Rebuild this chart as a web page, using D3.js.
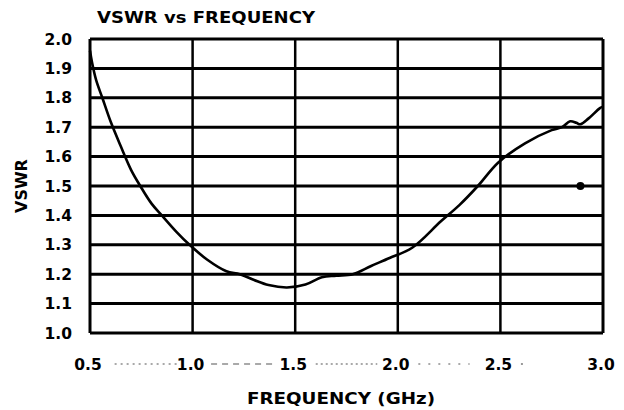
<!DOCTYPE html>
<html>
<head>
<meta charset="utf-8">
<script src="https://cdn.jsdelivr.net/npm/d3@7"></script>
<style>
  body { margin: 0; background: #fff; }
  text { font-family: "DejaVu Sans", sans-serif; font-weight: bold; fill: #000; }
</style>
</head>
<body>
<div id="chart"></div>
<script>
// values
const freq = [0.5, 0.51, 0.53, 0.56, 0.6, 0.65, 0.7, 0.745, 0.8, 0.85, 0.92, 0.985, 1.07, 1.165, 1.23,
              1.3, 1.37, 1.46, 1.55, 1.63, 1.7, 1.78, 1.87, 1.96, 2.07, 2.21, 2.3, 2.39, 2.49,
              2.62, 2.75, 2.8, 2.84, 2.87, 2.89, 2.93, 2.985, 3.0];
const vswr = [1.96, 1.92, 1.86, 1.8, 1.72, 1.635, 1.555, 1.5, 1.44, 1.4, 1.345, 1.3, 1.25, 1.21, 1.2,
              1.18, 1.163, 1.155, 1.165, 1.19, 1.195, 1.2, 1.228, 1.255, 1.29, 1.38, 1.435, 1.5, 1.58,
              1.645, 1.69, 1.7, 1.72, 1.715, 1.71, 1.73, 1.765, 1.77];
const markerPoint = [2.89, 1.5];
const xTicks = [0.5, 1.0, 1.5, 2.0, 2.5, 3.0];
const yTicks = [1.0, 1.1, 1.2, 1.3, 1.4, 1.5, 1.6, 1.7, 1.8, 1.9, 2.0];

const width = 624, height = 410;
const margin = { top: 39, right: 21, bottom: 77, left: 90 };

const svg = d3.select('#chart').append('svg')
    .attr('width', width)
    .attr('height', height);

const x = d3.scaleLinear()
    .domain([0.5, 3.0])
    .range([margin.left, width - margin.right]);

const y = d3.scaleLinear()
    .domain([1.0, 2.0])
    .range([height - margin.bottom, margin.top]);

// horizontal grid
svg.append('g')
    .selectAll('line')
    .data(yTicks)
    .join('line')
    .attr('x1', x(0.5)).attr('x2', x(3.0))
    .attr('y1', d => y(d)).attr('y2', d => y(d))
    .attr('stroke', '#000')
    .attr('stroke-width', 3);

// vertical grid
svg.append('g')
    .selectAll('line')
    .data(xTicks)
    .join('line')
    .attr('x1', d => x(d)).attr('x2', d => x(d))
    .attr('y1', y(2.0)).attr('y2', y(1.0))
    .attr('stroke', '#000')
    .attr('stroke-width', d => (d === 0.5 || d === 3.0) ? 3 : 2.5);

// y tick labels
svg.append('g')
    .selectAll('text')
    .data(yTicks)
    .join('text')
    .attr('x', 72)
    .attr('y', d => y(d))
    .attr('dy', '0.36em')
    .attr('text-anchor', 'end')
    .attr('font-size', 15.5)
    .text(d => d.toFixed(1));

// x tick labels
svg.append('g')
    .selectAll('text')
    .data(xTicks)
    .join('text')
    .attr('x', d => x(d) - 2)
    .attr('y', 370)
    .attr('text-anchor', 'middle')
    .attr('font-size', 15.5)
    .text(d => d.toFixed(1));

// faint leaders between x tick labels (scan artefact)
const leaders = [[0.62, 0.93, '2,4'], [1.09, 1.4, '6,5'], [1.6, 1.9, '2,3'], [2.1, 2.35, '2,8'], [2.6, 2.64, '2,8']];
svg.append('g')
    .selectAll('line')
    .data(leaders)
    .join('line')
    .attr('x1', d => x(d[0])).attr('x2', d => x(d[1]))
    .attr('y1', 364).attr('y2', 364)
    .attr('stroke', '#555')
    .attr('stroke-width', 1.2)
    .attr('stroke-dasharray', d => d[2]);

// curve
const line = d3.line()
    .x((d, i) => x(freq[i]))
    .y(d => y(d))
    .curve(d3.curveCatmullRom);

svg.append('path')
    .datum(vswr)
    .attr('d', line)
    .attr('fill', 'none')
    .attr('stroke', '#000')
    .attr('stroke-width', 2.6);

svg.append('circle')
    .attr('cx', x(markerPoint[0]))
    .attr('cy', y(markerPoint[1]))
    .attr('r', 4);

// titles
svg.append('text')
    .attr('x', 97)
    .attr('y', 23)
    .attr('font-size', 16)
    .attr('textLength', 218)
    .attr('lengthAdjust', 'spacingAndGlyphs')
    .text('VSWR vs FREQUENCY');

svg.append('text')
    .attr('x', 341)
    .attr('y', 404)
    .attr('text-anchor', 'middle')
    .attr('font-size', 16)
    .attr('textLength', 188)
    .attr('lengthAdjust', 'spacingAndGlyphs')
    .text('FREQUENCY (GHz)');

svg.append('text')
    .attr('transform', 'translate(27,186) rotate(-90)')
    .attr('text-anchor', 'middle')
    .attr('font-size', 16)
    .text('VSWR');
</script>
</body>
</html>
